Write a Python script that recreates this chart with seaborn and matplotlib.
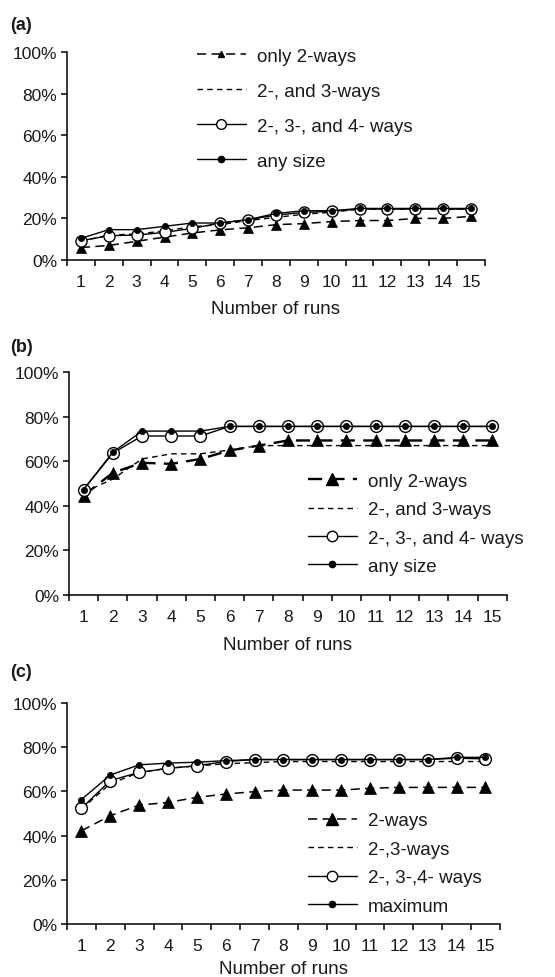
import numpy as np
import pandas as pd
import matplotlib
matplotlib.use("Agg")
import matplotlib.pyplot as plt
from matplotlib.lines import Line2D
from matplotlib.ticker import FixedLocator, NullFormatter, FixedFormatter
import seaborn as sns

# ---- data (coverage %) ----
runs = list(range(1, 16))

a_two = [6, 7, 9, 11, 13, 14.5, 15.5, 17, 17.5, 18.5, 19, 19, 20, 20, 21]
a_two_three = [9, 12, 12.5, 14, 16, 17, 19, 20.5, 22, 23, 24.5, 24.5, 24.5, 24.5, 24.5]
a_two_four = [9.3, 11.7, 12, 13.3, 15.2, 17.8, 19.4, 21.6, 22.9, 23.4, 24.5, 24.5, 24.5, 24.5, 24.5]
a_any = [10.4, 14.6, 14.6, 16.2, 17.8, 17.8, 19.4, 22.4, 23.7, 23.7, 24.8, 24.8, 24.8, 24.8, 24.8]

b_two = [44.6, 54.8, 59.3, 58.8, 61, 64.8, 67, 69.3, 69.3, 69.3, 69.3, 69.3, 69.3, 69.3, 69.3]
b_two_three = [46, 52, 61, 63.3, 63.3, 65, 67, 67, 67, 67, 67, 67, 67, 67, 67]
b_two_four = [47.3, 63.6, 71.3, 71.3, 71.3, 75.6, 75.6, 75.6, 75.6, 75.6, 75.6, 75.6, 75.6, 75.6, 75.6]
b_any = [47.3, 64, 73.5, 73.5, 73.5, 75.6, 75.6, 75.6, 75.6, 75.6, 75.6, 75.6, 75.6, 75.6, 75.6]

c_two = [42.2, 49, 53.8, 55, 57.3, 58.8, 59.9, 60.6, 60.6, 60.6, 61.4, 61.8, 61.8, 61.8, 61.8]
c_two_three = [52, 63.5, 68.5, 70.5, 71.5, 72.5, 73, 73.5, 73.5, 73.5, 73.5, 73.5, 73.5, 73.5, 73.5]
c_two_four = [52.3, 64.9, 68.6, 70.4, 71.6, 73.5, 74.4, 74.4, 74.4, 74.4, 74.4, 74.4, 74.4, 75, 74.7]
c_max = [56.3, 67.4, 72, 72.8, 73.2, 73.9, 74.4, 74.4, 74.4, 74.4, 74.4, 74.4, 74.4, 75.4, 75.4]

labels_ab = ["only 2-ways", "2-, and 3-ways", "2-, 3-, and 4- ways", "any size"]
labels_c = ["2-ways", "2-,3-ways", "2-, 3-,4- ways", "maximum"]

yticks = [0, 20, 40, 60, 80, 100]
ytick_labels = ["0%", "20%", "40%", "60%", "80%", "100%"]

sns.set_theme(style="ticks")
plt.rcParams["font.family"] = ["Liberation Sans", "DejaVu Sans"]
plt.rcParams["axes.linewidth"] = 1.1
plt.rcParams["xtick.major.width"] = 1.1
plt.rcParams["ytick.major.width"] = 1.1

LONG = (0, (6, 3.5))
SHORT = (0, (4, 3))

fig = plt.figure(figsize=(5.55, 9.78), dpi=100)

# axes positions (figure fraction) and legend anchors
panels = [
    dict(rect=[0.1207, 0.7331, 0.753, 0.2127], series=[a_two, a_two_three, a_two_four, a_any],
         labels=labels_ab, tag="(a)", tag_y=1 - 25 / 978, leg=(0.311, 1.02), spacing=0.95,
         xpad=8, tri_ms=6.5, tri_lw=1.1, circ_ms=8, dot_ms=4.5, leg_tri=5, leg_circ=7, leg_dot=4.5),
    dict(rect=[0.1243, 0.3906, 0.789, 0.228], series=[b_two, b_two_three, b_two_four, b_any],
         labels=labels_ab, tag="(b)", tag_y=1 - 348 / 978, leg=(0.546, 0.548), spacing=0.6,
         xpad=8.5, tri_ms=8.5, tri_lw=1.7, circ_ms=8.5, dot_ms=4.5, leg_tri=9, leg_circ=7.5, leg_dot=4.5),
    dict(rect=[0.1207, 0.0542, 0.780, 0.226], series=[c_two, c_two_three, c_two_four, c_max],
         labels=labels_c, tag="(c)", tag_y=1 - 673 / 978, leg=(0.557, 0.505), spacing=0.6,
         xpad=5, tri_ms=8.5, tri_lw=1.1, circ_ms=8.5, dot_ms=4.5, leg_tri=9, leg_circ=7.5, leg_dot=4.5),
]

for p in panels:
    ax = fig.add_axes(p["rect"])
    two, two_three, two_four, top = p["series"]

    sns.lineplot(x=runs, y=two_three, ax=ax, color="black", lw=1.0, linestyle=SHORT, legend=False)
    sns.lineplot(x=runs, y=two, ax=ax, color="black", lw=p["tri_lw"], linestyle=LONG,
                 marker="^", markersize=p["tri_ms"], markeredgecolor="black", markeredgewidth=0.5,
                 legend=False)
    sns.lineplot(x=runs, y=two_four, ax=ax, color="black", lw=1.0, marker="o",
                 markersize=p["circ_ms"], markerfacecolor="white", markeredgecolor="black",
                 markeredgewidth=1.0, legend=False)
    sns.lineplot(x=runs, y=top, ax=ax, color="black", lw=1.0, marker="o",
                 markersize=p["dot_ms"], markeredgecolor="black", markeredgewidth=0.5, legend=False)

    ax.set_xlim(0.5, 15.5)
    ax.set_ylim(0, 100)
    sns.despine(ax=ax)

    ax.xaxis.set_major_locator(FixedLocator(np.arange(0.5, 16, 1.0)))
    ax.xaxis.set_major_formatter(NullFormatter())
    ax.xaxis.set_minor_locator(FixedLocator(runs))
    ax.xaxis.set_minor_formatter(FixedFormatter([str(r) for r in runs]))
    ax.tick_params(axis="x", which="major", direction="out", length=4.5, color="black")
    ax.tick_params(axis="x", which="minor", length=0, pad=10, labelsize=12.5, labelcolor="#1a1a1a")
    ax.set_yticks(yticks)
    ax.set_yticklabels(ytick_labels)
    ax.tick_params(axis="y", direction="out", length=4.5, pad=2.5, labelsize=12.5,
                   labelcolor="#1a1a1a", color="black")
    for s in ax.spines.values():
        s.set_color("black")

    ax.set_xlabel("Number of runs", fontsize=13.5, labelpad=p["xpad"], color="#1a1a1a")
    ax.set_ylabel("")

    handles = [
        Line2D([], [], color="black", lw=p["tri_lw"], linestyle=LONG, marker="^",
               markersize=p["leg_tri"], markeredgecolor="black"),
        Line2D([], [], color="black", lw=1.0, linestyle=SHORT),
        Line2D([], [], color="black", lw=1.0, marker="o", markersize=p["leg_circ"],
               markerfacecolor="white", markeredgecolor="black"),
        Line2D([], [], color="black", lw=1.0, marker="o", markersize=p["leg_dot"],
               markeredgecolor="black"),
    ]
    ax.legend(handles, p["labels"], loc="upper left", bbox_to_anchor=p["leg"], frameon=False,
              borderpad=0, borderaxespad=0, handlelength=2.6, handletextpad=0.6,
              labelspacing=p["spacing"], fontsize=13.5, labelcolor="#1a1a1a")

    fig.text(0.018, p["tag_y"], p["tag"], fontsize=13, fontweight="bold", va="center",
             color="#1a1a1a")

fig.savefig("out.png", dpi=100)
